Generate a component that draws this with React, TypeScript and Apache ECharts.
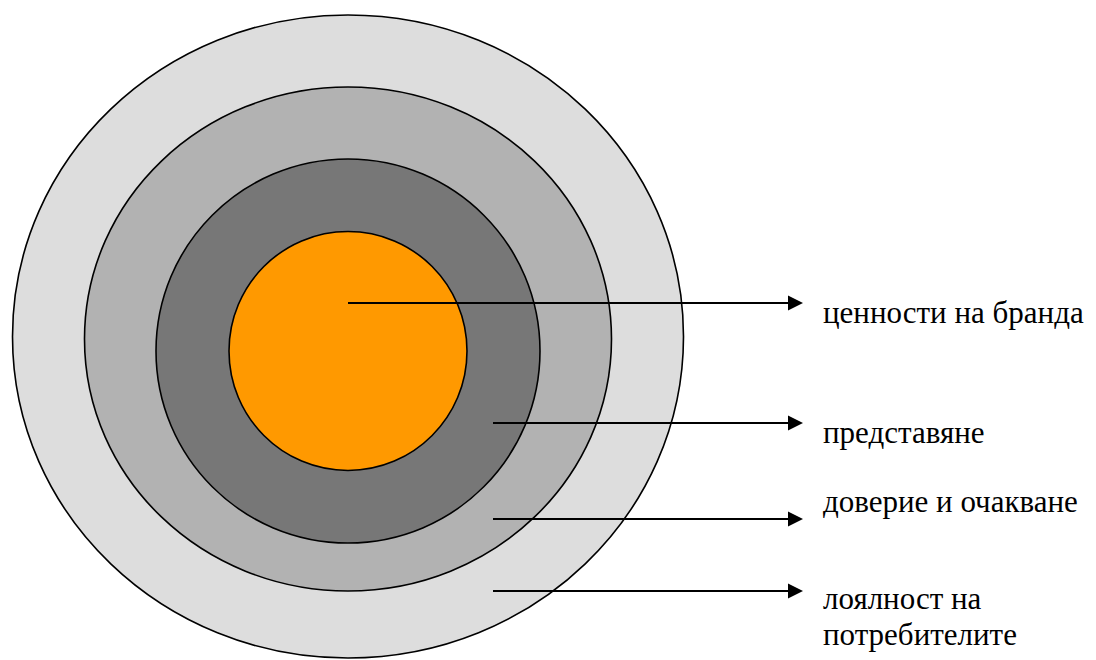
import React, { useEffect, useRef } from "react";
import * as echarts from "echarts";

// Layers, from outer to inner (diagram units = pixels of the 1096x660 canvas)
const layerNames = ["лоялност на потребителите", "доверие и очакване", "представяне", "ценности на бранда"];
const layerCx = [348, 348, 348, 348];
const layerCy = [336.5, 339, 351, 351];
const layerRx = [335.5, 263.5, 192, 119];
const layerRy = [321.5, 252, 192, 119.5];
const layerColors = ["#dddddd", "#b2b2b2", "#777777", "#ff9900"];

// Arrows (start x, end x, y) for each label, top to bottom
const arrowStartX = [348, 493, 493, 493];
const arrowEndX = [803, 803, 803, 803];
const arrowY = [303, 423, 519, 591];

// Labels
const labelTexts = ["ценности на бранда", "представяне", "доверие и очакване", "лоялност на\nпотребителите"];
const labelX = [823, 823, 823, 823];
const labelY = [312, 432, 501, 616];

const FONT = '"Liberation Serif", "Times New Roman", "DejaVu Serif", serif';

export default function App() {
  const ref = useRef<HTMLDivElement>(null);
  useEffect(() => {
    document.body.style.margin = "0";
    const chart = echarts.init(ref.current!, null, { renderer: "svg" });
    const ellipseData = layerNames.map((n, i) => ({
      name: n,
      value: [layerCx[i], layerCy[i], layerRx[i], layerRy[i]],
      itemStyle: { color: layerColors[i] },
    }));
    const arrowData = arrowY.map((y, i) => [arrowStartX[i], arrowEndX[i], y]);
    const labelData = labelTexts.map((t, i) => ({ name: t, value: [labelX[i], labelY[i]] }));
    chart.setOption({
      animation: false,
      grid: { left: 0, right: 0, top: 0, bottom: 0 },
      xAxis: { type: "value", min: 0, max: 1096, show: false },
      yAxis: { type: "value", min: 0, max: 660, inverse: true, show: false },
      series: [
        {
          type: "custom",
          coordinateSystem: "cartesian2d",
          data: ellipseData,
          clip: false,
          renderItem: (params: any, api: any) => {
            const c = api.coord([api.value(0), api.value(1)]);
            const s = api.size([api.value(2), api.value(3)]);
            return {
              type: "ellipse",
              shape: { cx: c[0], cy: c[1], rx: s[0], ry: s[1] },
              style: { fill: layerColors[params.dataIndex], stroke: "#000", lineWidth: 1.6 },
            };
          },
        },
        {
          type: "custom",
          coordinateSystem: "cartesian2d",
          data: arrowData,
          clip: false,
          z: 5,
          renderItem: (params: any, api: any) => {
            const p0 = api.coord([api.value(0), api.value(2)]);
            const p1 = api.coord([api.value(1), api.value(2)]);
            const head = 15;
            return {
              type: "group",
              children: [
                {
                  type: "line",
                  shape: { x1: p0[0], y1: p0[1], x2: p1[0] - head + 1, y2: p1[1] },
                  style: { stroke: "#000", lineWidth: 2.2 },
                },
                {
                  type: "polygon",
                  shape: {
                    points: [
                      [p1[0], p1[1]],
                      [p1[0] - head, p1[1] - 7.5],
                      [p1[0] - head, p1[1] + 7.5],
                    ],
                  },
                  style: { fill: "#000" },
                },
              ],
            };
          },
        },
        {
          type: "custom",
          coordinateSystem: "cartesian2d",
          data: labelData,
          clip: false,
          z: 6,
          renderItem: (params: any, api: any) => {
            const p = api.coord([api.value(0), api.value(1)]);
            return {
              type: "text",
              x: p[0],
              y: p[1],
              style: {
                text: labelTexts[params.dataIndex],
                fill: "#000",
                font: `31px ${FONT}`,
                textAlign: "left",
                textVerticalAlign: "middle",
                lineHeight: 36,
              },
            };
          },
        },
      ],
    });
    return () => chart.dispose();
  }, []);
  return <div ref={ref} style={{ width: 1096, height: 660 }} />;
}
